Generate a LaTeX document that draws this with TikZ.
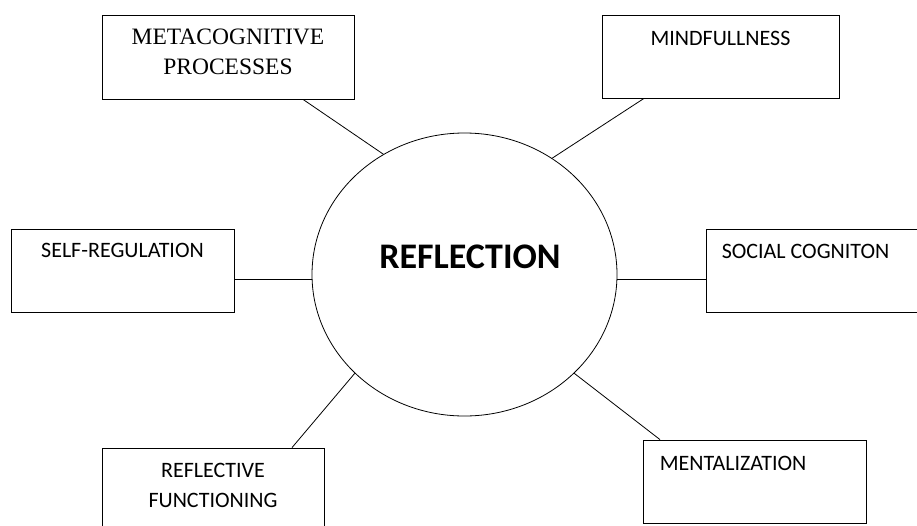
\documentclass[tikz,border=0pt]{standalone}
\usepackage{fontspec}
\setmainfont{Carlito}
\newfontfamily\serifface{Liberation Serif}
\usetikzlibrary{positioning, shapes.geometric}

\begin{document}
\begin{tikzpicture}[x=1pt, y=-1pt, node distance=15pt, every node/.style={align=center, inner sep=0pt}]
  \tikzset{box/.style={draw, line width=0.8pt, minimum width=223pt, minimum height=83pt},
    lbl/.style={font=\fontsize{22}{30}\selectfont},
    link/.style={line width=0.8pt}}
  \path[use as bounding box, clip] (0,0) rectangle (917,525);
  % centre
  \node[draw, ellipse, line width=0.8pt, minimum width=305pt, minimum height=283pt] (R) at (464.5,274.5) {};
  \node[font=\fontsize{36}{40}\selectfont\bfseries] (Rtxt) at (470,256.5) {REFLECTION};
  % boxes
  \node[box, minimum width=252pt, minimum height=84pt] (MC) at (228,57) {};
  \node[below=14pt of MC.north, font=\serifface\fontsize{23.5}{30}\selectfont] (MCtxt) {METACOGNITIVE\\PROCESSES};
  \node[box, minimum width=237pt] (MF) at (720.5,56.5) {};
  \node[lbl, below=16pt of MF.north] (MFtxt) {MINDFULLNESS};
  \node[box] (SR) at (122.5,270.5) {};
  \node[lbl, below=14pt of SR.north] (SRtxt) {SELF-REGULATION};
  \node[box] (SC) at (817.5,270.5) {};
  \node[lbl, below right=15pt and 16pt of SC.north west] (SCtxt) {SOCIAL COGNITON};
  \node[box, minimum width=222pt] (RF) at (213,489.5) {};
  \node[lbl, below=15pt of RF.north] (RFtxt) {REFLECTIVE\\FUNCTIONING};
  \node[box] (MN) at (754.5,481.5) {};
  \node[lbl, below right=16pt and 17pt of MN.north west] (MNtxt) {MENTALIZATION};
  % links
  \draw[link] ([xshift=75pt]MC.south) -- (R.124);
  \draw[link] ([xshift=-76.5pt]MF.south) -- (R.53);
  \draw[link] ([yshift=-9pt]SR.east) -- ([yshift=-9pt]SR.east -| R.west);
  \draw[link] ([yshift=-9pt]SC.west) -- ([yshift=-9pt]SC.west -| R.east);
  \draw[link] ([xshift=79pt]RF.north) -- (R.222);
  \draw[link] ([xshift=-94.5pt]MN.north) -- (R.318);
\end{tikzpicture}
\end{document}
